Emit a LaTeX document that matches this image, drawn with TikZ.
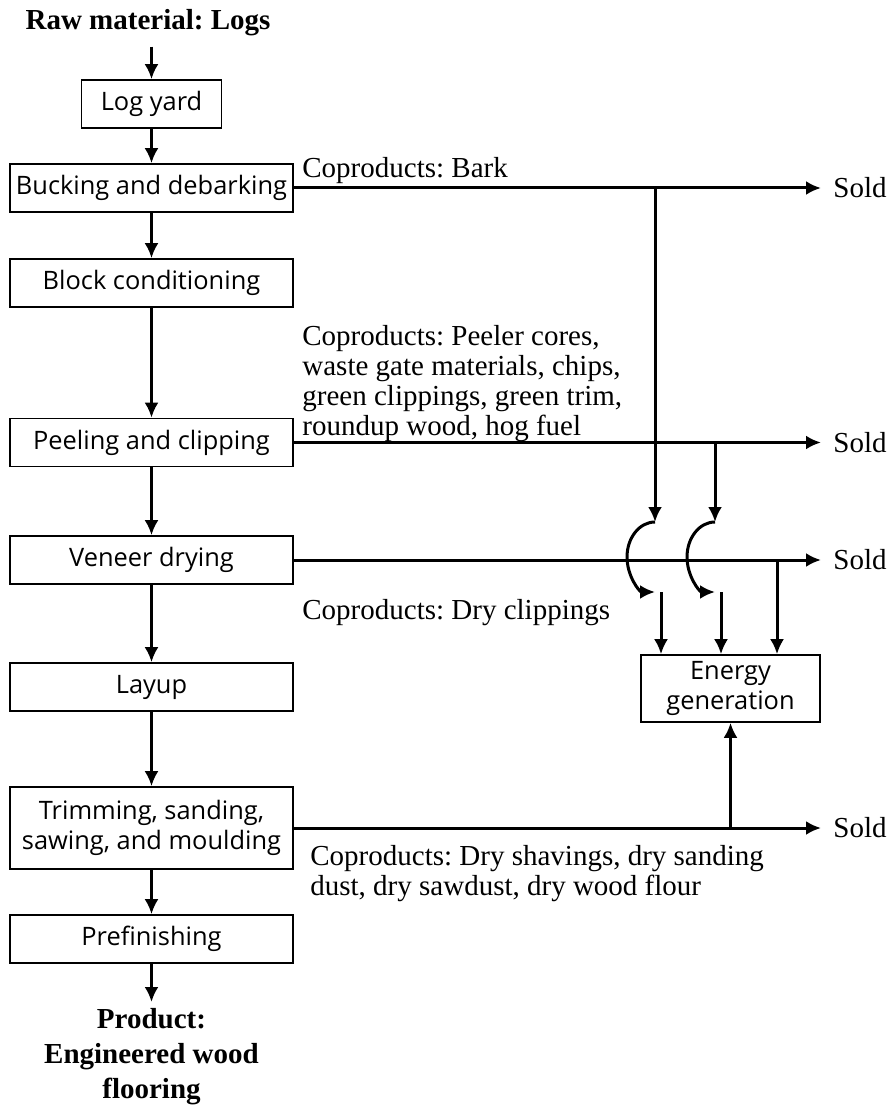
\documentclass[tikz,border=0pt]{standalone}
\usepackage{fontspec}
\setmainfont{Liberation Serif}
\newfontfamily\boxfont{Open Sans}
\usepackage{tikz}
\usetikzlibrary{arrows.meta}
\tikzset{>={Latex[length=7.5pt,width=7pt]}}
\tikzset{
  stage/.style={draw, line width=0.8pt, inner sep=0pt, align=center,
    minimum width=141.5pt, minimum height=24pt,
    font=\boxfont\fontsize{12.7}{15}\selectfont},
  flow/.style={->, line width=1.5pt},
  heading/.style={inner sep=0pt, align=center, font=\bfseries\fontsize{14.5}{17.5}\selectfont},
  note/.style={inner sep=0pt, align=left, font=\fontsize{14.5}{15}\selectfont},
  sold/.style={anchor=west, inner sep=6pt, font=\fontsize{14.5}{15}\selectfont}
}
\frenchspacing

\begin{document}
\begin{tikzpicture}[x=0.5pt,y=-0.5pt]
    \useasboundingbox (0,0) rectangle (891,1106);
    \node[heading] (raw) at (148,23) {Raw material: Logs};
    \node[stage, minimum width=70pt] (logyard) at (151.5,104) {Log yard};
    \node[stage] (bucking) at (151.5,188) {Bucking and debarking};
    \node[stage] (block) at (151.5,283) {Block conditioning};
    \node[stage] (peeling) at (151.5,442.5) {Peeling and clipping};
    \node[stage] (veneer) at (151.5,560) {Veneer drying};
    \node[stage] (layup) at (151.5,687) {Layup};
    \node[stage, minimum height=41pt] (trimming) at (151.5,828) {Trimming, sanding,\\sawing, and moulding};
    \node[stage] (prefinishing) at (151.5,939) {Prefinishing};
    \node[heading, anchor=north] (product) at (151.5,1008) {Product:\\Engineered wood\\flooring};
    \node[stage, minimum width=89.5pt, minimum height=33.5pt] (energy) at (730.5,688.5) {Energy\\generation};
    \node[sold] (sold1) at (821,188) {Sold};
    \node[sold] (sold2) at (821,442.5) {Sold};
    \node[sold] (sold3) at (821,560) {Sold};
    \node[sold] (sold4) at (821,828) {Sold};
    \node[note, anchor=base west] (barknote) at (302,178) {Coproducts: Bark};
    \node[note, anchor=north west] (peelnote) at (302,325) {Coproducts: Peeler cores,\\waste gate materials, chips,\\green clippings, green trim,\\roundup wood, hog fuel};
    \node[note, anchor=base west] (drynote) at (302,619) {Coproducts: Dry clippings};
    \node[note, anchor=north west] (trimnote) at (310,845) {Coproducts: Dry shavings, dry sanding\\dust, dry sawdust, dry wood flour};
    \draw[flow] ([yshift=-5pt]raw.south -| logyard) -- (logyard);
    \draw[flow] (logyard) -- (bucking);
    \draw[flow] (bucking) -- (block);
    \draw[flow] (block) -- (peeling);
    \draw[flow] (peeling) -- (veneer);
    \draw[flow] (veneer) -- (layup);
    \draw[flow] (layup) -- (trimming);
    \draw[flow] (trimming) -- (prefinishing);
    \draw[flow] (prefinishing) -- ([yshift=3pt]product.north);
    \draw[flow] (bucking) -- (sold1);
    \draw[flow] (peeling) -- (sold2);
    \draw[flow] (veneer) -- (sold3);
    \draw[flow] (trimming) -- (sold4);
    \coordinate (j1) at (655,188);
    \coordinate (h1) at (655,522);
    \coordinate (j2) at (715,442.5);
    \coordinate (h2) at (715,522);
    \coordinate (j3) at (777,560);
    \coordinate (j4) at (730.5,828);
    \draw[flow] (j1) -- (h1);
    \draw[flow] (h1) arc[start angle=270, end angle=90, x radius=28, y radius=35] coordinate (k1);
    \draw[flow] ([xshift=3pt]k1) -- ([xshift=3pt]k1 |- energy.north);
    \draw[flow] (j2) -- (h2);
    \draw[flow] (h2) arc[start angle=270, end angle=90, x radius=28, y radius=35] coordinate (k2);
    \draw[flow] ([xshift=3pt]k2) -- ([xshift=3pt]k2 |- energy.north);
    \draw[flow] (j3) -- (j3 |- energy.north);
    \draw[flow] (j4) -- (energy);
\end{tikzpicture}
\end{document}
